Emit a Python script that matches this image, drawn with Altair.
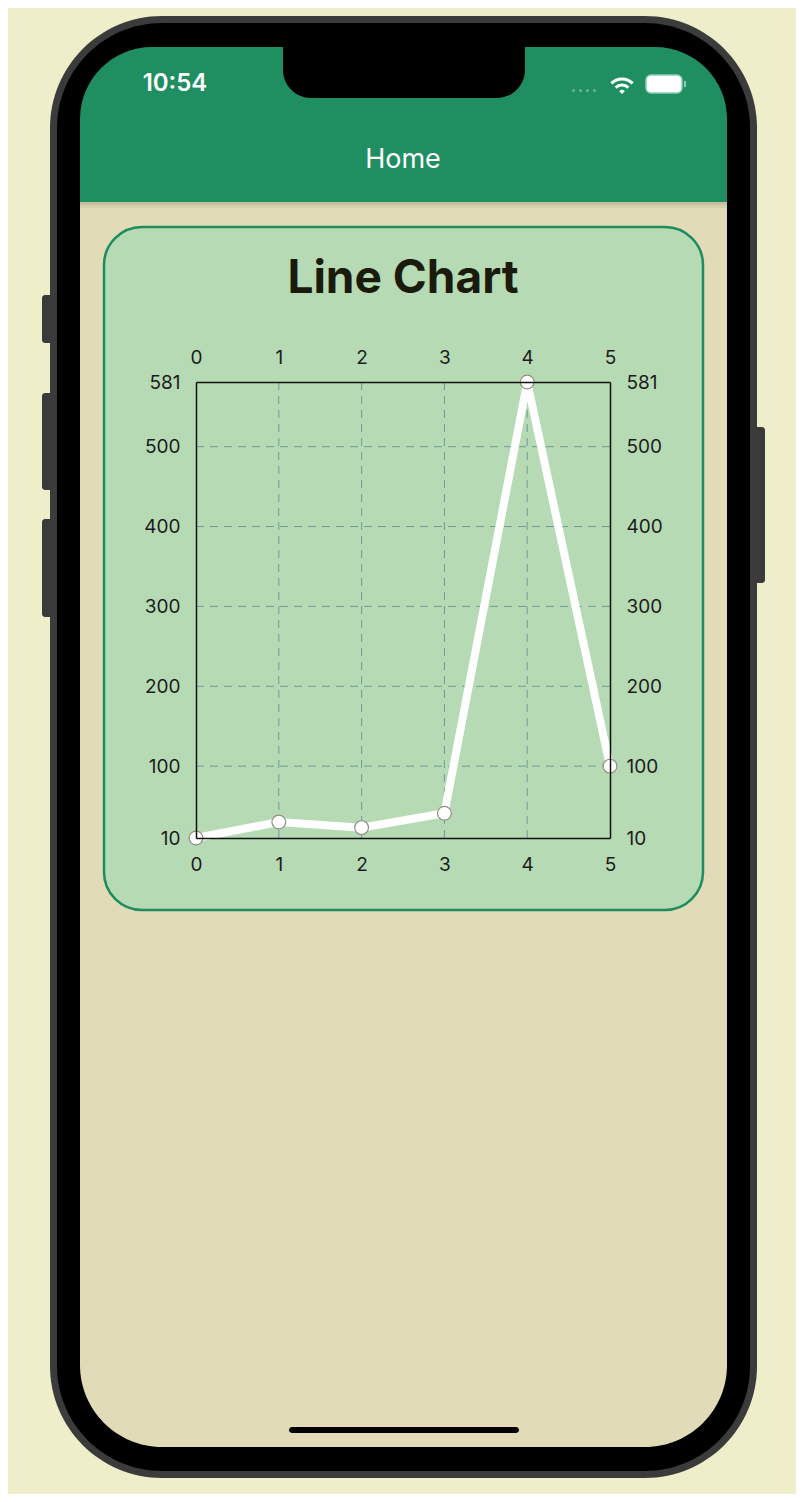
import altair as alt
import pandas as pd

# chart data
x_vals = [0, 1, 2, 3, 4, 5]
y_vals = [10, 30, 23, 41, 581, 100]
x_ticks = [0, 1, 2, 3, 4, 5]
y_ticks = [10, 100, 200, 300, 400, 500, 581]
grid_x = [1, 2, 3, 4]
grid_y = [100, 200, 300, 400, 500]

# screen texts
clock_text = "10:54"
header_text = "Home"
title_text = "Line Chart"

# page position of the plot area (used for the phone decoration only)
OX, OY = 196, 382
W, H = 414, 456

one = pd.DataFrame({"a": [0]})
df = pd.DataFrame({"x": x_vals, "y": y_vals})

xs = alt.Scale(domain=[0, 5], nice=False, zero=False)
ys = alt.Scale(domain=[10, 581], nice=False, zero=False)


def box(x1, y1, x2, y2, **kw):
    return alt.Chart(one).mark_rect(**kw).encode(
        x=alt.value(x1 - OX), x2=alt.value(x2 - OX),
        y=alt.value(y1 - OY), y2=alt.value(y2 - OY))


def label(txt, x, y, **kw):
    return alt.Chart(one).mark_text(text=txt, **kw).encode(
        x=alt.value(x - OX), y=alt.value(y - OY))


def axis(orient, values, pad):
    return alt.Axis(orient=orient, values=values, format="d", title=None,
                    grid=False, ticks=False, tickSize=0, labelPadding=pad,
                    labelFlush=False, labelFontSize=19, labelFont="Inter",
                    labelColor="#1c1c1c", domainColor="#111111",
                    domainWidth=1.5, zindex=1)


# phone body
frame = [
    box(42, 295, 56, 343, color="#3a3a3a", cornerRadius=3),
    box(42, 393, 56, 490, color="#3a3a3a", cornerRadius=3),
    box(42, 519, 56, 617, color="#3a3a3a", cornerRadius=3),
    box(752, 427, 765, 583, color="#3a3a3a", cornerRadius=3),
    box(50, 16, 757, 1478, color="#3b3b3b", cornerRadius=112),
    box(57, 23, 750, 1471, color="#000000", cornerRadius=105),
    box(80, 47, 727, 1447, color="#e1dcb7", cornerRadius=82),
    box(80, 47, 727, 202, color="#1f8e61", cornerRadiusTopLeft=72,
        cornerRadiusTopRight=72),
    box(80, 202, 727, 205, color="#c2bd98", opacity=0.8),
    box(80, 205, 727, 208, color="#d3cea9", opacity=0.8),
    box(283, 40, 525, 98, color="#000000", cornerRadiusBottomLeft=28,
        cornerRadiusBottomRight=28),
    box(289, 1427, 519, 1433, color="#000000", cornerRadius=3),
    box(646, 75, 682, 93, fill="#ffffff", stroke="#8fd0b0", strokeWidth=1.5,
        cornerRadius=5),
    box(684, 81, 686, 87, color="#8fd0b0"),
]
frame += [box(x, 89, x + 3, 92, color="#5fa88a") for x in [572, 579, 586, 593]]

wifi = [
    alt.Chart(one).mark_arc(color="white", radius=r2, radius2=r1,
                            theta=5.5, theta2=7.07).encode(
        x=alt.value(622 - OX), y=alt.value(94 - OY))
    for r1, r2 in [(0, 4), (7.5, 10.5), (13.5, 16.5)]
]

texts = [
    label(clock_text, 175, 84, font="Inter", fontSize=24, fontWeight=600,
          color="white", baseline="middle"),
    label(header_text, 403, 160, font="Inter", fontSize=27, color="white",
          baseline="middle"),
]

card = box(104, 227, 703, 910, fill="#b6dab4", stroke="#1e8c5f",
           strokeWidth=2.5, cornerRadius=38)

title = label(title_text, 403, 279, font="Inter", fontSize=46,
              fontWeight="bold", color="#1b1b0c", baseline="middle")

grid_v = alt.Chart(pd.DataFrame({"x": grid_x})).mark_rule(
    color="#6f9c98", strokeDash=[8, 6], strokeWidth=1).encode(
    x=alt.X("x:Q", scale=xs, axis=None))

grid_h = alt.Chart(pd.DataFrame({"y": grid_y})).mark_rule(
    color="#6f9c98", strokeDash=[8, 6], strokeWidth=1).encode(
    y=alt.Y("y:Q", scale=ys, axis=None))

line = alt.Chart(df).mark_line(color="white", strokeWidth=8).encode(
    x=alt.X("x:Q", scale=xs, axis=axis("bottom", x_ticks, 17)),
    y=alt.Y("y:Q", scale=ys, axis=axis("left", y_ticks, 16)))

points = alt.Chart(df).mark_circle(color="white", opacity=1, size=190,
                                   stroke="#8f8f80", strokeWidth=1.2).encode(
    x=alt.X("x:Q", scale=xs, axis=axis("top", x_ticks, 15)),
    y=alt.Y("y:Q", scale=ys, axis=axis("right", y_ticks, 16)))

chart = alt.layer(
    *frame, *wifi, *texts, card, title, grid_v, grid_h, line, points
).resolve_axis(
    x="independent", y="independent"
).properties(
    width=W, height=H,
    padding={"left": OX - 8, "top": OY - 8, "right": 796 - OX - W,
             "bottom": 1494 - OY - H},
    autosize=alt.AutoSizeParams(type="none"),
    background="#efeecb",
).configure_view(strokeWidth=0)

chart.save("out.html", embed_options={"renderer": "svg", "actions": False})
